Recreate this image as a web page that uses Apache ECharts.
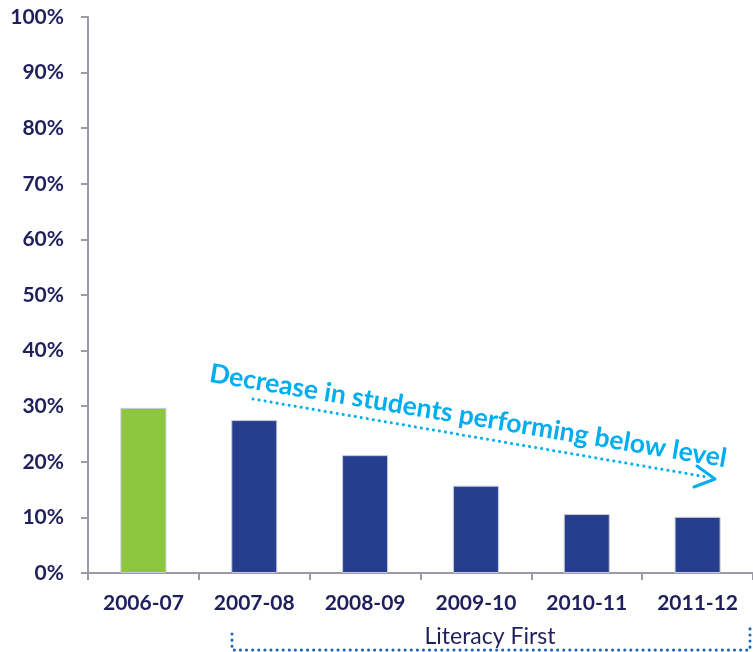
<!DOCTYPE html>
<html><head><meta charset="utf-8">
<script src="https://cdn.jsdelivr.net/npm/echarts@6/dist/echarts.min.js"></script>
<style>html,body{margin:0;padding:0;background:#fff}#c{width:753px;height:652px}</style>
</head><body><div id="c"></div>
<script>
const categories = ['2006-07','2007-08','2008-09','2009-10','2010-11','2011-12'];
const belowLevel = [29.7, 27.5, 21.2, 15.7, 10.6, 10.1];
const barColors = ['#8DC63F','#253F8E','#253F8E','#253F8E','#253F8E','#253F8E'];
const yTicks = [0,10,20,30,40,50,60,70,80,90,100];
const annotation = 'Decrease in students performing below level';
const bracketLabel = 'Literacy First';

const chart = echarts.init(document.getElementById('c'));
const navy = '#1F1F5C', axisGray = '#9A9AA8', cyan = '#00AEEF', dotBlue = '#1565B8';
const ang = -9.4 * Math.PI / 180;
chart.setOption({
  animation: false,
  grid: { left: 88, top: 17, width: 670, height: 556 },
  xAxis: {
    type: 'category', data: categories, boundaryGap: true,
    axisLine: { lineStyle: { color: axisGray, width: 2 } },
    axisTick: { show: true, length: 7, lineStyle: { color: axisGray, width: 2 } },
    axisLabel: { color: navy, fontFamily: 'Lato', fontWeight: 'bold', fontSize: 21, margin: 20 }
  },
  yAxis: {
    type: 'value', min: 0, max: 100, interval: 10,
    splitLine: { show: false },
    axisLine: { show: true, lineStyle: { color: axisGray, width: 2 } },
    axisTick: { show: true, length: 7, lineStyle: { color: axisGray, width: 2 } },
    axisLabel: { color: navy, fontFamily: 'Lato', fontWeight: 'bold', fontSize: 21, margin: 24,
      formatter: v => yTicks.includes(v) ? v + '%' : '' }
  },
  series: [{
    type: 'bar', barWidth: 46,
    data: belowLevel.map((v, i) => ({ value: v, itemStyle: { color: barColors[i] } })),
    itemStyle: { borderColor: '#C9CAD9', borderWidth: 1 }
  }],
  graphic: [
    { type: 'text', x: 212, y: 360, rotation: ang, originX: 0, originY: 0,
      style: { text: annotation, fill: cyan, fontFamily: 'Lato', fontWeight: 'bold', fontSize: 26.5 } },
    { type: 'line', shape: { x1: 253, y1: 399, x2: 707, y2: 477 },
      style: { stroke: cyan, lineWidth: 3, lineDash: [0.1, 6], lineCap: 'round' } },
    { type: 'polyline', shape: { points: [[697, 466], [715, 479], [694, 487]] },
      style: { stroke: cyan, lineWidth: 3, fill: null, lineCap: 'round', lineJoin: 'round' } },
    { type: 'polyline', shape: { points: [[232, 634], [232, 650], [750, 650], [750, 627]] },
      style: { stroke: dotBlue, lineWidth: 3, fill: null, lineDash: [0.1, 6], lineCap: 'round' } },
    { type: 'text', x: 490, y: 625, style: { text: bracketLabel, fill: navy, fontFamily: 'Lato', fontSize: 23, align: 'center' } }
  ]
});
</script></body></html>
